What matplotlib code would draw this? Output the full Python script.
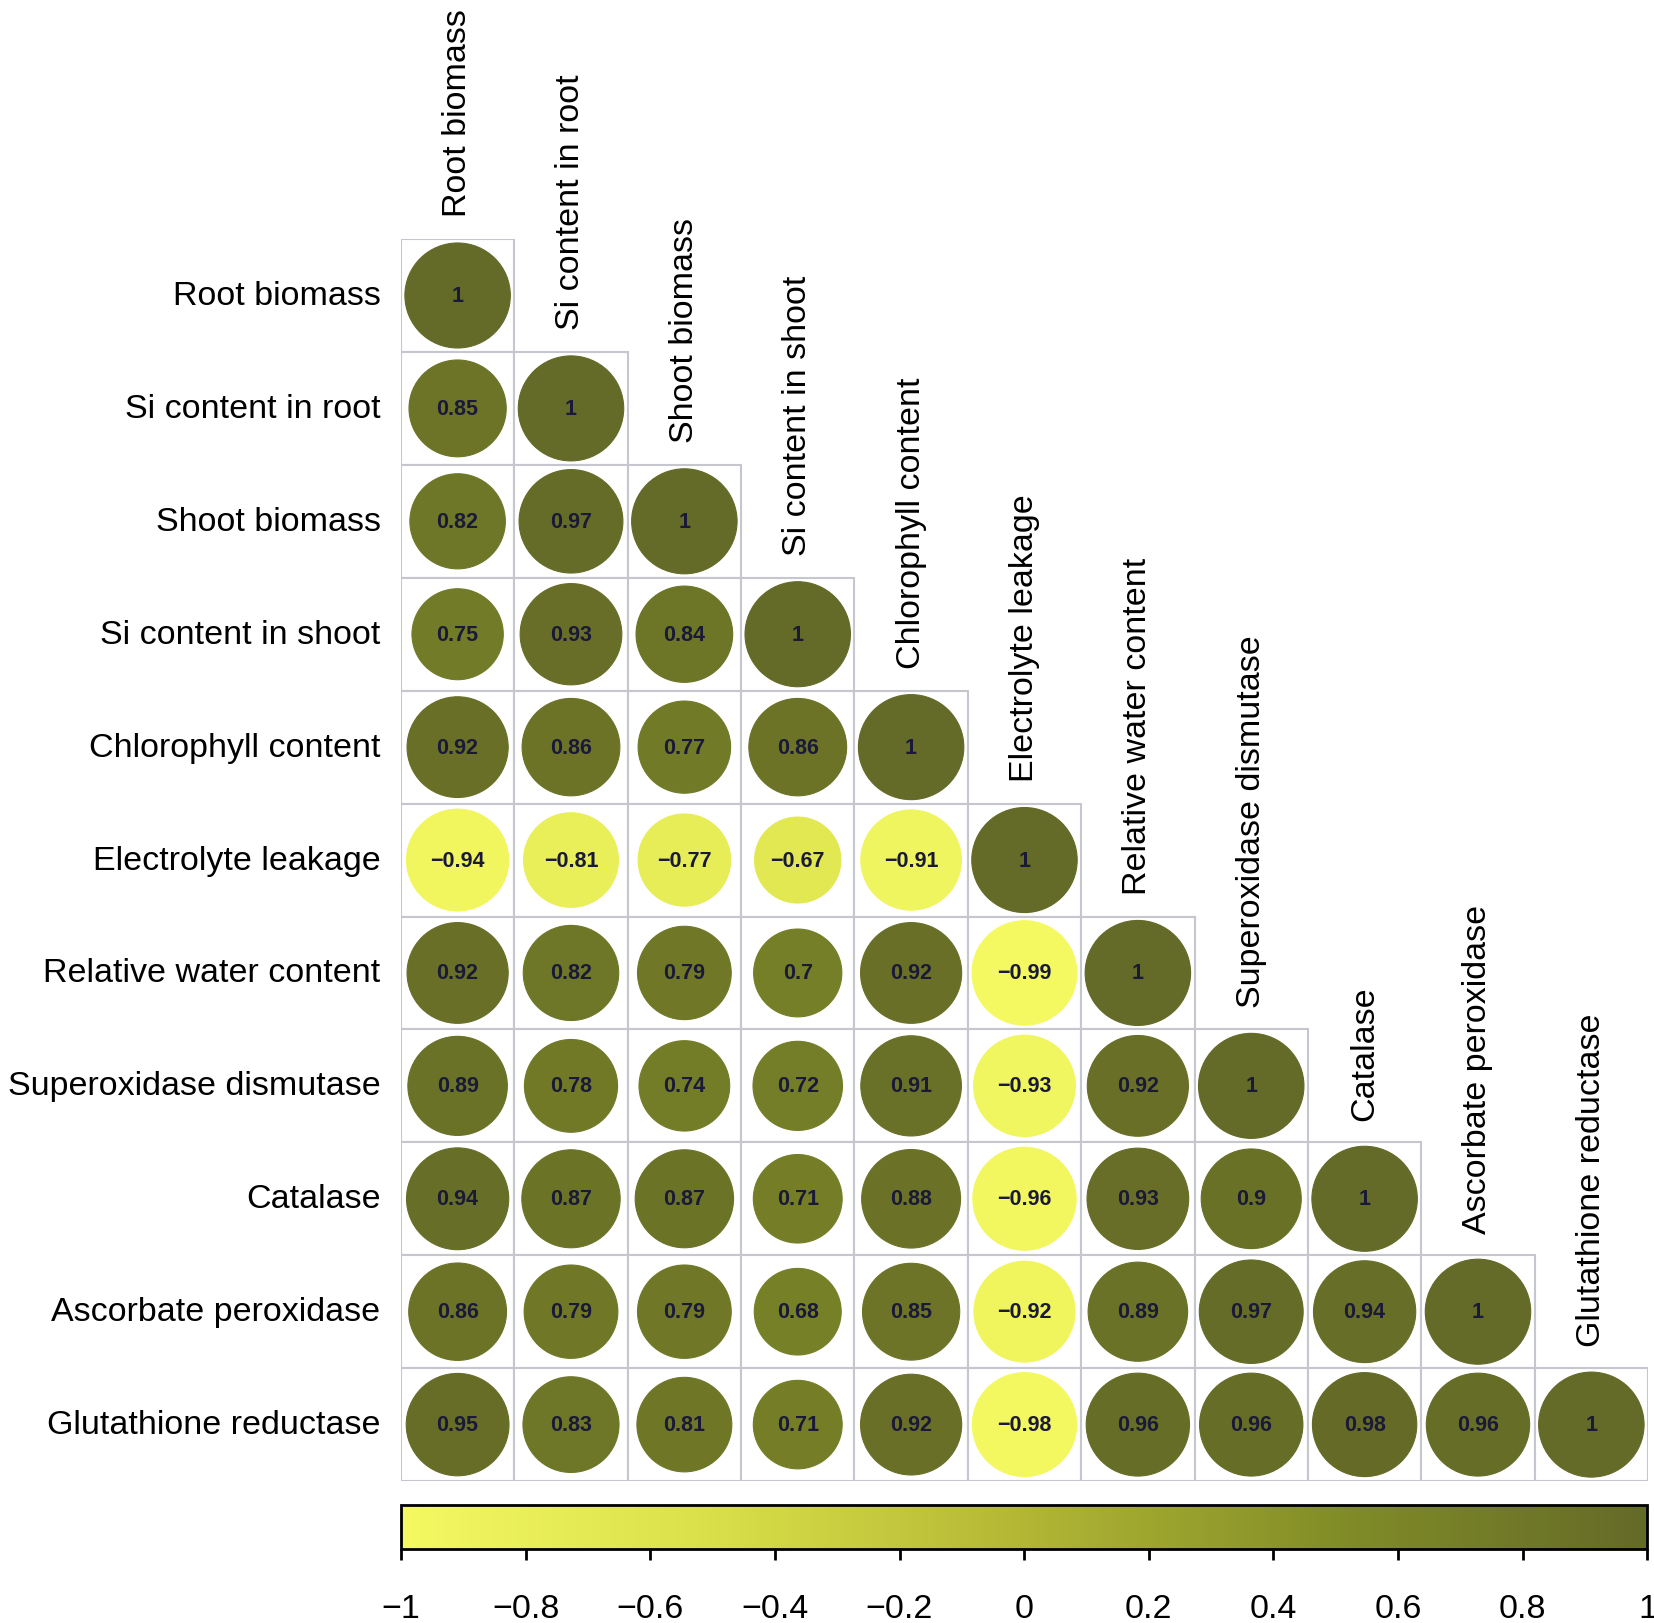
import numpy as np
import matplotlib
matplotlib.use("Agg")
import matplotlib.pyplot as plt
from matplotlib.colors import LinearSegmentedColormap, Normalize
from matplotlib.patches import Circle, Rectangle
from matplotlib.colorbar import ColorbarBase

plt.rcParams['font.family'] = ['Liberation Sans', 'DejaVu Sans']

# variable names (rows and columns)
labels = ["Root biomass", "Si content in root", "Shoot biomass",
          "Si content in shoot", "Chlorophyll content", "Electrolyte leakage",
          "Relative water content", "Superoxidase dismutase", "Catalase",
          "Ascorbate peroxidase", "Glutathione reductase"]

# lower triangle of the correlation matrix, row by row
corr_rows = [
    [1],
    [0.85, 1],
    [0.82, 0.97, 1],
    [0.75, 0.93, 0.84, 1],
    [0.92, 0.86, 0.77, 0.86, 1],
    [-0.94, -0.81, -0.77, -0.67, -0.91, 1],
    [0.92, 0.82, 0.79, 0.7, 0.92, -0.99, 1],
    [0.89, 0.78, 0.74, 0.72, 0.91, -0.93, 0.92, 1],
    [0.94, 0.87, 0.87, 0.71, 0.88, -0.96, 0.93, 0.9, 1],
    [0.86, 0.79, 0.79, 0.68, 0.85, -0.92, 0.89, 0.97, 0.94, 1],
    [0.95, 0.83, 0.81, 0.71, 0.92, -0.98, 0.96, 0.96, 0.98, 0.96, 1],
]

cbar_ticks = [-1, -0.8, -0.6, -0.4, -0.2, 0, 0.2, 0.4, 0.6, 0.8, 1]

cmap = LinearSegmentedColormap.from_list(
    "olive", [(0.0, '#F4F962'), (0.25, '#D8DF48'), (0.5, '#B2B634'),
              (0.75, '#818D27'), (1.0, '#646A27')])
norm = Normalize(-1, 1)

n = len(labels)
fig = plt.figure(figsize=(16.54, 16.24), dpi=100)
ax = fig.add_axes([0.2424, 0.0874, 0.754, 0.7648])
ax.set_xlim(0, n)
ax.set_ylim(n, 0)
ax.axis('off')

def fmt(v):
    s = "1" if v == 1 else ("%g" % v)
    return s.replace("-", "\u2212")

for i, row in enumerate(corr_rows):
    for j, v in enumerate(row):
        ax.add_patch(Rectangle((j, i), 1, 1, facecolor='white',
                               edgecolor='#c6c6ce', linewidth=1.5, zorder=1))
        c = cmap(norm(v))
        ax.add_patch(Circle((j + 0.5, i + 0.5), 0.465 * np.sqrt(abs(v)),
                            facecolor=c, edgecolor=c, linewidth=0.8, zorder=2))
        ax.text(j + 0.5, i + 0.5, fmt(v), ha='center', va='center',
                fontsize=15.5, fontweight='bold', color='#1a1a38', zorder=3)

# row labels on the left, column labels above the diagonal
for i, lab in enumerate(labels):
    ax.text(-0.18, i + 0.5, lab, ha='right', va='center', fontsize=24.5,
            color='black')
    ax.text(i + 0.5, i - 0.2, lab, ha='center', va='bottom', rotation=90,
            fontsize=24.5, color='black')

# colour bar underneath
cax = fig.add_axes([0.2424, 0.0456, 0.7536, 0.0271])
cb = ColorbarBase(cax, cmap=cmap, norm=norm, orientation='horizontal',
                  ticks=cbar_ticks)
cb.outline.set_linewidth(2)
cb.ax.tick_params(length=8, width=2, labelsize=24.5, pad=24)
cb.ax.set_xticklabels([fmt(t) for t in cbar_ticks])

fig.savefig("out.png", dpi=100, facecolor='white')
